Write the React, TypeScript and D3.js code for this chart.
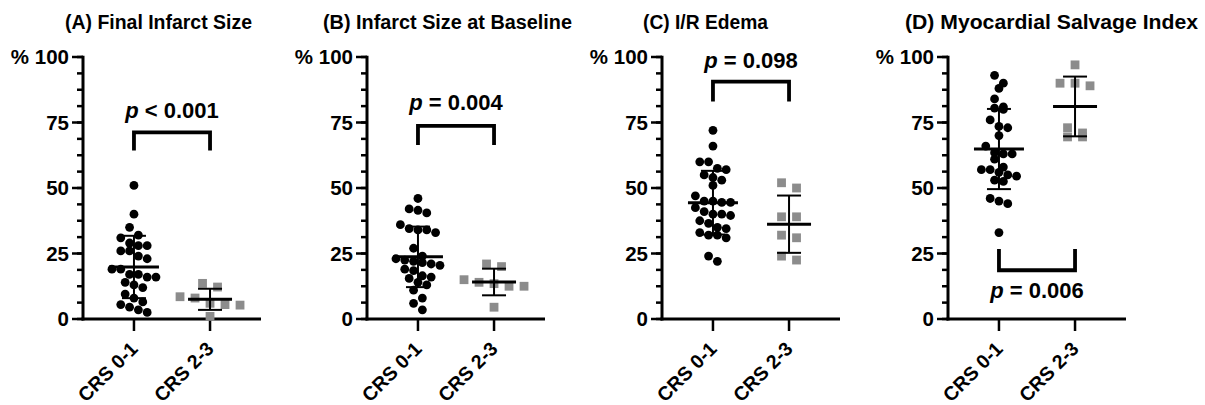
import * as d3 from 'd3';

// values (percent)
const categories = ['CRS 0-1', 'CRS 2-3'];

const finalInfarct01 = [51, 40, 35, 32, 31, 29, 28, 28, 26, 26, 24, 23, 19, 19, 17, 17, 16, 16, 14, 13, 12, 9.5, 8, 6.5, 5.5, 4.5, 3.5, 2.5];
const finalInfarct23 = [13.6, 12.2, 8.5, 8, 6, 5.5, 5.3, 1];

const baseline01 = [46, 42, 41.5, 40.5, 36, 34.5, 34, 34, 33, 27, 24, 23, 22.5, 22, 21.5, 21, 20.5, 19, 18.5, 16.5, 16, 15.5, 14, 13, 11, 8, 6, 3.5];
const baseline23 = [21, 20, 15, 14, 13.5, 12.5, 12.5, 4.5];

const edema01 = [72, 66, 60, 60, 57.5, 57, 55, 54, 53, 51, 47, 45, 45, 44.5, 44.5, 42.5, 41, 40, 40, 39.5, 37.5, 36.5, 35, 34.5, 33, 32, 32, 31, 24, 22];
const edema23 = [52, 50, 39, 39, 32, 31, 24, 22.5];

const salvage01 = [93, 90, 88, 84, 81, 80.5, 80, 76, 73.5, 73, 70, 66, 63.5, 63, 63, 61, 58, 57, 57, 56, 55, 54.5, 53, 52.5, 46, 45, 44, 33];
const salvage23 = [97, 90, 90, 89, 73, 71, 69.5, 69.5];

const titles = ['(A) Final Infarct Size', '(B) Infarct Size at Baseline', '(C) I/R Edema', '(D) Myocardial Salvage Index'];
const pTexts = [' < 0.001', ' = 0.004', ' = 0.098', ' = 0.006'];
// bracket: [bar value, leg end value, label baseline value]
const brackets = [
  [71.2, 64.3, 76.7],
  [73.7, 66.4, 79.8],
  [90.6, 83, 95.7],
  [18.6, 26.7, 8],
];
const yTicks = [0, 25, 50, 75, 100];

const panels = [
  { title: titles[0], axisX: 83, titleX: 65, titleLen: 187, groups: [finalInfarct01, finalInfarct23], p: pTexts[0], br: brackets[0] },
  { title: titles[1], axisX: 367, titleX: 323, titleLen: 249, groups: [baseline01, baseline23], p: pTexts[1], br: brackets[1] },
  { title: titles[2], axisX: 662, titleX: 643, titleLen: 125, groups: [edema01, edema23], p: pTexts[2], br: brackets[2] },
  { title: titles[3], axisX: 948, titleX: 905, titleLen: 293, groups: [salvage01, salvage23], p: pTexts[3], br: brackets[3] },
];

const FONT = '"Liberation Sans", Arial, Helvetica, sans-serif';
const y = d3.scaleLinear().domain([0, 100]).range([319, 57]);
const minorTicks = d3.range(0, 100.01, 6.25);

// prism-like scatter: points close in value share a row, rows are centred
function swarm(values: number[], cx: number, step: number, rowPx: number) {
  const pts = values.map(v => ({ v, y: y(v), x: cx })).sort((a, b) => b.v - a.v);
  const rows: typeof pts[] = [];
  pts.forEach(p => {
    const row = rows[rows.length - 1];
    if (row && Math.abs(p.y - row[0].y) < rowPx) row.push(p);
    else rows.push([p]);
  });
  rows.forEach(row => {
    row.forEach((p, i) => { p.x = cx + (i - (row.length - 1) / 2) * step; });
  });
  return pts;
}

function Panel({ cfg }: { cfg: typeof panels[0] }) {
  const x = d3.scalePoint<string>().domain(categories).range([cfg.axisX, cfg.axisX + 178]).padding(0.67);
  const c0 = x(categories[0])!;
  const c1 = x(categories[1])!;
  const circles = swarm(cfg.groups[0], c0, 8.8, 8.5);
  const squares = swarm(cfg.groups[1], c1, 15, 9);
  const stats = cfg.groups.map(g => ({ m: d3.mean(g)!, sd: d3.deviation(g)! }));
  const [barV, legV, labV] = cfg.br;
  const mid = (c0 + c1) / 2;

  return (
    <g>
      <text x={cfg.titleX} y={29} fontFamily={FONT} fontWeight="bold" fontSize={19.5}
        textLength={cfg.titleLen} lengthAdjust="spacingAndGlyphs">{cfg.title}</text>

      {/* y axis */}
      {minorTicks.map(t => (
        <line key={'m' + t} x1={cfg.axisX - 6} x2={cfg.axisX} y1={y(t)} y2={y(t)} stroke="#000" strokeWidth={2.5} />
      ))}
      {yTicks.map(t => (
        <g key={t}>
          <line x1={cfg.axisX - 11} x2={cfg.axisX} y1={y(t)} y2={y(t)} stroke="#000" strokeWidth={2.5} />
          <text x={cfg.axisX - 14} y={y(t)} dy="0.36em" textAnchor="end" fontFamily={FONT} fontWeight="bold" fontSize={20.5}>
            {t === 100 ? '% 100' : t}
          </text>
        </g>
      ))}
      <line x1={cfg.axisX} x2={cfg.axisX} y1={y(100) - 1.25} y2={y(0) + 1.5} stroke="#000" strokeWidth={3} />
      <line x1={cfg.axisX - 1.5} x2={cfg.axisX + 178} y1={y(0)} y2={y(0)} stroke="#000" strokeWidth={3} />
      {categories.map(c => (
        <g key={c}>
          <line x1={x(c)} x2={x(c)} y1={y(0)} y2={y(0) + 12} stroke="#000" strokeWidth={2.5} />
          <text transform={`translate(${x(c)! + 5},350) rotate(-45)`} textAnchor="end" fontFamily={FONT}
            fontWeight="bold" fontSize={19.5}>{c}</text>
        </g>
      ))}

      {/* points */}
      {circles.map((p, i) => <circle key={'c' + i} cx={p.x} cy={p.y} r={4.4} fill="#000" />)}
      {squares.map((p, i) => <rect key={'s' + i} x={p.x - 4.4} y={p.y - 4.4} width={8.8} height={8.8} fill="#8c8c8c" />)}

      {/* mean ± SD */}
      {[c0, c1].map((cx, i) => {
        const { m, sd } = stats[i];
        const hw = i === 0 ? 25 : 22;
        return (
          <g key={'st' + i} stroke="#000">
            <line x1={cx} x2={cx} y1={y(m + sd)} y2={y(m - sd)} strokeWidth={2} />
            <line x1={cx - 12} x2={cx + 12} y1={y(m + sd)} y2={y(m + sd)} strokeWidth={2} />
            <line x1={cx - 12} x2={cx + 12} y1={y(m - sd)} y2={y(m - sd)} strokeWidth={2} />
            <line x1={cx - hw} x2={cx + hw} y1={y(m)} y2={y(m)} strokeWidth={3} />
          </g>
        );
      })}

      {/* significance bracket */}
      <path d={`M${c0},${y(legV)}V${y(barV)}H${c1}V${y(legV)}`} fill="none" stroke="#000" strokeWidth={3.8} />
      <text x={mid} y={y(labV)} textAnchor="middle" fontFamily={FONT} fontWeight="bold" fontSize={22}>
        <tspan fontStyle="italic">p</tspan>{cfg.p}
      </text>
    </g>
  );
}

export default function App() {
  return (
    <svg width={1205} height={405} style={{ position: 'absolute', left: 0, top: 0, background: '#fff' }}>
      <rect width={1205} height={405} fill="#fff" />
      {panels.map(p => <Panel key={p.title} cfg={p} />)}
    </svg>
  );
}
